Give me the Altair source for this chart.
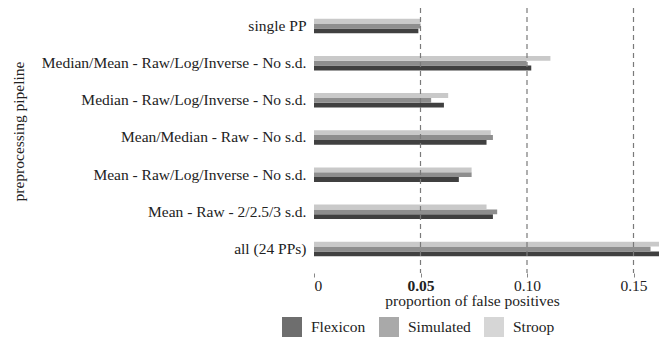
import altair as alt
import pandas as pd

pipelines = [
    "single PP",
    "Median/Mean - Raw/Log/Inverse - No s.d.",
    "Median - Raw/Log/Inverse - No s.d.",
    "Mean/Median - Raw - No s.d.",
    "Mean - Raw/Log/Inverse - No s.d.",
    "Mean - Raw - 2/2.5/3 s.d.",
    "all (24 PPs)",
]
series = ["Flexicon", "Simulated", "Stroop"]
flexicon = [0.049, 0.102, 0.061, 0.081, 0.068, 0.084, 0.164]
simulated = [0.050, 0.0998, 0.055, 0.084, 0.074, 0.086, 0.158]
stroop = [0.050, 0.111, 0.063, 0.083, 0.074, 0.081, 0.167]
colors = ["#404040", "#8e8e8e", "#c9c9c9"]
tick_values = [0, 0.05, 0.10, 0.15]
grid_values = [0.05, 0.10, 0.15]

rows = []
for name, vals in zip(series, [flexicon, simulated, stroop]):
    for p, v in zip(pipelines, vals):
        rows.append({"pipeline": p, "dataset": name, "value": v})
df = pd.DataFrame(rows)
grid_df = pd.DataFrame({"x": grid_values})

FONT = "Liberation Serif"
FS = 15.5
W, H = 345, 265

bars = alt.Chart(df).mark_bar(clip=True).encode(
    y=alt.Y(
        "pipeline:N",
        sort=pipelines,
        scale=alt.Scale(paddingInner=0.61, paddingOuter=0.37, align=0.39),
        axis=alt.Axis(
            title="preprocessing pipeline",
            ticks=False,
            domain=False,
            labelPadding=8,
            labelFont=FONT,
            labelFontSize=FS,
            labelColor="#222222",
            labelLimit=400,
            titleFont=FONT,
            titleFontSize=FS,
            titleFontWeight="normal",
            titleColor="#222222",
            titleX=-296,
            titleY=123,
            titleAngle=-90,
            titleAlign="center",
            titleBaseline="middle",
        ),
    ),
    yOffset=alt.YOffset("dataset:N", sort=["Stroop", "Simulated", "Flexicon"],
                        scale=alt.Scale(paddingInner=0, paddingOuter=0)),
    x=alt.X(
        "value:Q",
        scale=alt.Scale(domain=[0, W / 2130.0], nice=False, zero=True),
        axis=alt.Axis(
            title="proportion of false positives",
            values=tick_values,
            grid=False,
            domain=False,
            ticks=True,
            tickSize=4,
            tickColor="#888888",
            labelPadding=1,
            labelFont=FONT,
            labelFontSize=FS,
            labelColor="#222222",
            labelExpr="datum.value == 0 ? '0' : format(datum.value, '.2f')",
            labelFontWeight={"condition": {"test": "abs(datum.value - 0.05) < 1e-6", "value": "bold"}, "value": "normal"},
            titleFont=FONT,
            titleFontSize=FS,
            titleFontWeight="normal",
            titleColor="#222222",
            titlePadding=0,
            titleX=158,
            titleAnchor="middle",
        ),
    ),
    color=alt.Color(
        "dataset:N",
        scale=alt.Scale(domain=series, range=colors),
        legend=alt.Legend(
            title=None,
            orient="none",
            legendX=-32,
            legendY=309,
            direction="horizontal",
            symbolType="square",
            symbolSize=400,
            symbolOpacity=0.76,
            symbolStrokeWidth=0,
            labelFont=FONT,
            labelFontSize=FS,
            labelColor="#222222",
            labelOffset=9,
            columnPadding=13,
        ),
    ),
)

rules = alt.Chart(grid_df).mark_rule(
    strokeDash=[5, 4], color="#7a7a7a", strokeWidth=1.2
).encode(x=alt.X("x:Q"))

chart = alt.layer(bars, rules).properties(
    width=W,
    height=H,
    autosize=alt.AutoSizeParams(type="none"),
    padding={"left": 306, "right": 0, "top": 0, "bottom": 64},
).configure_view(stroke=None)

chart.save("out.html", embed_options={"renderer": "svg", "actions": False})
